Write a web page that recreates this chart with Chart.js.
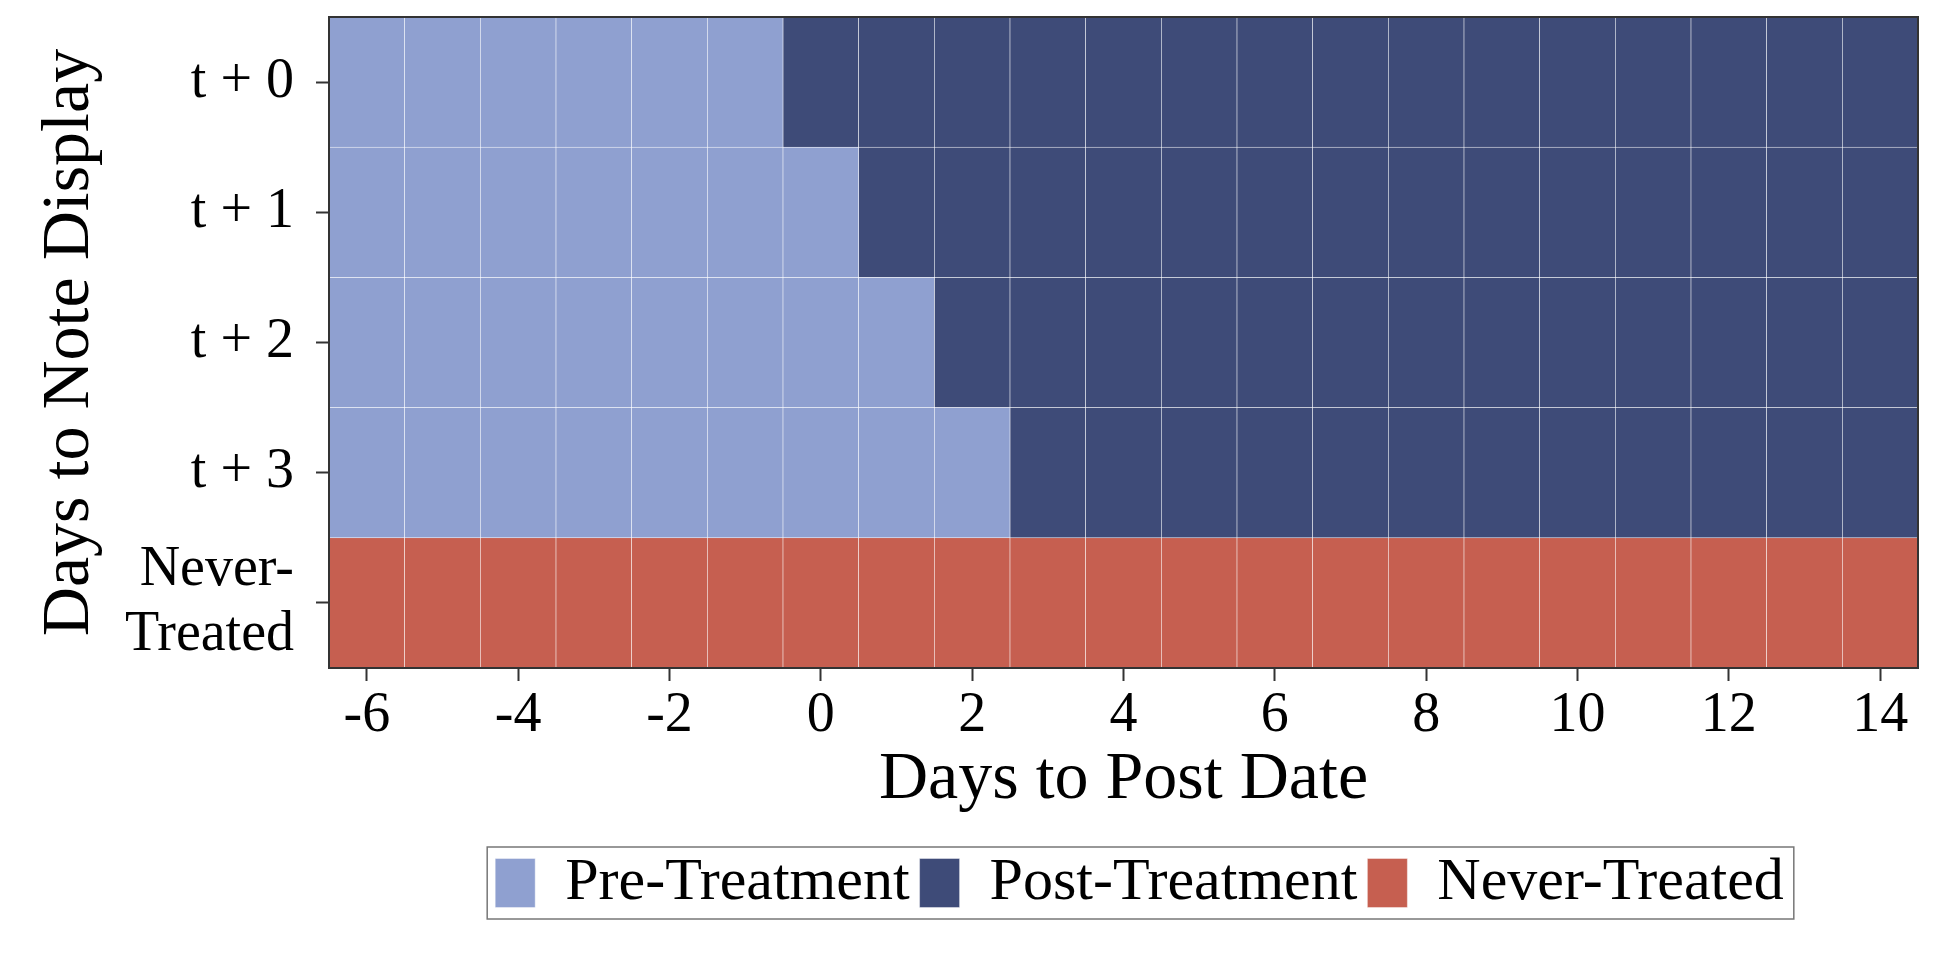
<!DOCTYPE html>
<html>
<head>
<meta charset="utf-8">
<script src="https://cdn.jsdelivr.net/npm/chart.js@4.4.1/dist/chart.umd.min.js"></script>
<style>
  html, body { margin: 0; padding: 0; background: #ffffff; }
  #wrap { width: 1937px; height: 969px; position: relative; }
</style>
</head>
<body>
<div id="wrap"><canvas id="c"></canvas></div>
<script>
// ---- data ----
const rowLabels = ["t + 0", "t + 1", "t + 2", "t + 3", "Never-\nTreated"];
const days = [-6, -5, -4, -3, -2, -1, 0, 1, 2, 3, 4, 5, 6, 7, 8, 9, 10, 11, 12, 13, 14];
const firstPostDay = [0, 1, 2, 3, null];   // null: never treated
const xTickValues = [-6, -4, -2, 0, 2, 4, 6, 8, 10, 12, 14];
const seriesNames = ["Pre-Treatment", "Post-Treatment", "Never-Treated"];
const xTitle = "Days to Post Date";
const yTitle = "Days to Note Display";

// ---- styles ----
const seriesColors = ["#8FA0D0", "#3E4B78", "#C65F50"];
const FONT = "'Liberation Serif', 'Times New Roman', serif";
const LEGEND_PAD = 10;

// build cells from the data
const preCells = [], postCells = [], neverCells = [];
firstPostDay.forEach((fp, r) => {
  days.forEach(d => {
    const cell = { x: [d - 0.5, d + 0.5], y: rowLabels[r] };
    if (fp === null) neverCells.push(cell);
    else if (d < fp) preCells.push(cell);
    else postCells.push(cell);
  });
});
const cellSets = [preCells, postCells, neverCells];

const framePlugin = {
  id: 'frame',
  afterLayout(chart) {
    const lg = chart.legend;
    if (lg) { lg.left += 16; lg.right += 16; }
  },
  afterDatasetsDraw(chart) {
    const a = chart.chartArea, ctx = chart.ctx;
    ctx.save();
    ctx.strokeStyle = '#333333';
    ctx.lineWidth = 2;
    ctx.strokeRect(a.left, a.top, a.right - a.left, a.bottom - a.top);
    ctx.restore();
  },
  afterDraw(chart) {
    const lg = chart.legend;
    if (!lg || !lg.lineWidths) return;
    const lw = lg.lineWidths[0];
    const startX = (lg.left + LEGEND_PAD + lg.right - lw) / 2;
    const l = startX - 8;
    const r = startX + lw - LEGEND_PAD + 10;
    const t = lg.top + LEGEND_PAD - 6;
    const b = lg.top + LEGEND_PAD + 60 + 6;
    const ctx = chart.ctx;
    ctx.save();
    ctx.strokeStyle = '#777777';
    ctx.lineWidth = 1.5;
    ctx.strokeRect(l, t, r - l, b - t);
    ctx.restore();
  }
};

new Chart(document.getElementById('c'), {
  type: 'bar',
  data: {
    labels: rowLabels,
    datasets: seriesNames.map((name, i) => ({
      label: name,
      data: cellSets[i],
      backgroundColor: seriesColors[i],
      borderColor: 'rgba(255,255,255,0.7)',
      borderWidth: 0.6,
      borderSkipped: false,
      barPercentage: 1,
      categoryPercentage: 1,
      grouped: false
    }))
  },
  options: {
    indexAxis: 'y',
    responsive: true,
    maintainAspectRatio: false,
    devicePixelRatio: 1,
    animation: false,
    layout: { padding: { left: 29, right: 19, top: 17, bottom: 46 } },
    plugins: {
      tooltip: { enabled: false },
      legend: {
        position: 'bottom',
        fullSize: false,
        labels: {
          font: { family: FONT, size: 60 },
          color: '#000000',
          boxWidth: 40,
          boxHeight: 49,
          padding: LEGEND_PAD
        }
      }
    },
    scales: {
      x: {
        type: 'linear',
        min: -6.5,
        max: 14.5,
        afterBuildTicks(scale) { scale.ticks = xTickValues.map(v => ({ value: v })); },
        afterFit(scale) { scale.height = 175; scale.paddingLeft = 0; scale.paddingRight = 0; },
        grid: { drawOnChartArea: false, drawTicks: true, tickLength: 13, tickWidth: 2, tickColor: '#333333' },
        border: { display: false },
        ticks: { font: { family: FONT, size: 56 }, color: '#000000', padding: 2, maxRotation: 0, autoSkip: false },
        title: { display: true, text: xTitle, font: { family: FONT, size: 68 }, color: '#000000', padding: { top: 0, bottom: 22 } }
      },
      y: {
        type: 'category',
        afterFit(scale) { scale.width = 300; scale.paddingTop = 0; scale.paddingBottom = 0; },
        grid: { drawOnChartArea: false, drawTicks: true, tickLength: 13, tickWidth: 2, tickColor: '#333333', offset: false },
        border: { display: false },
        ticks: {
          font: { family: FONT, size: 56, lineHeight: 1.15 },
          color: '#000000',
          padding: 22,
          autoSkip: false,
          callback(value) { return String(this.getLabelForValue(value)).split('\n'); }
        },
        title: { display: true, text: yTitle, font: { family: FONT, size: 68 }, color: '#000000', padding: { top: 0, bottom: 0 } }
      }
    }
  },
  plugins: [framePlugin]
});
</script>
</body>
</html>
